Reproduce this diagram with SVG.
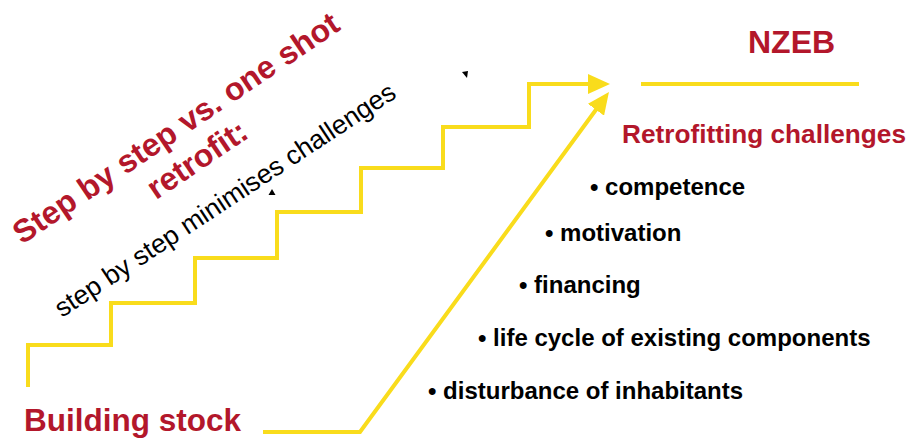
<svg xmlns="http://www.w3.org/2000/svg" width="913" height="440" viewBox="0 0 913 440">
<style>
.ln{fill:none;stroke:#F9DC1C;stroke-width:4}
.red{fill:#B3172B;font-family:"Liberation Sans",Arial,sans-serif;font-weight:bold}
.blk{fill:#000;font-family:"Liberation Sans",Arial,sans-serif}
.b{font-weight:bold;font-size:24px}
</style>
<defs>
<marker id="ah" markerUnits="userSpaceOnUse" markerWidth="22" markerHeight="20" viewBox="0 0 22 20" refX="8" refY="10" orient="auto">
<path d="M0,0 L22,10 L0,20 z" fill="#F9DC1C"/>
</marker>
</defs>
<g id="connectors">
<path id="stairs" class="ln" d="M28,387 V345 H111 V303 H195 V258 H277 V212 H361 V168 H443 V127 H529 V84 H596" marker-end="url(#ah)"/>
<path id="oneshot" class="ln" d="M263,432 H360 L600.7,103.3" marker-end="url(#ah)"/>
<path id="nzeb-line" class="ln" d="M641,84 H859"/>
</g>
<g id="nzeb"><text class="red" x="748" y="53" font-size="32">NZEB</text></g>
<g id="building-stock"><text class="red" x="24" y="431" font-size="31.5">Building stock</text></g>
<g id="challenges">
<text class="red" x="622" y="143" font-size="26" textLength="284" lengthAdjust="spacingAndGlyphs">Retrofitting challenges</text>
<text class="blk b" x="590" y="195">• competence</text>
<text class="blk b" x="545" y="241">• motivation</text>
<text class="blk b" x="519" y="293">• financing</text>
<text class="blk b" x="478" y="346">• life cycle of existing components</text>
<text class="blk b" x="428" y="399">• disturbance of inhabitants</text>
</g>
<g id="title" transform="translate(182,137) rotate(-34)">
<text class="red" x="0" y="0" font-size="32" text-anchor="middle">Step by step vs. one shot</text>
<text class="red" x="0" y="38" font-size="32" text-anchor="middle">retrofit:</text>
</g>
<g id="subtitle" transform="translate(62,318) rotate(-33.4)">
<text class="blk" x="0" y="0" font-size="26.5">step by step minimises challenges</text>
</g>
<g id="marks">
<polygon points="272,189 275.5,195 268.5,195" fill="#000"/>
<polygon points="462,72 468,71 467,78" fill="#000"/>
</g>
</svg>
